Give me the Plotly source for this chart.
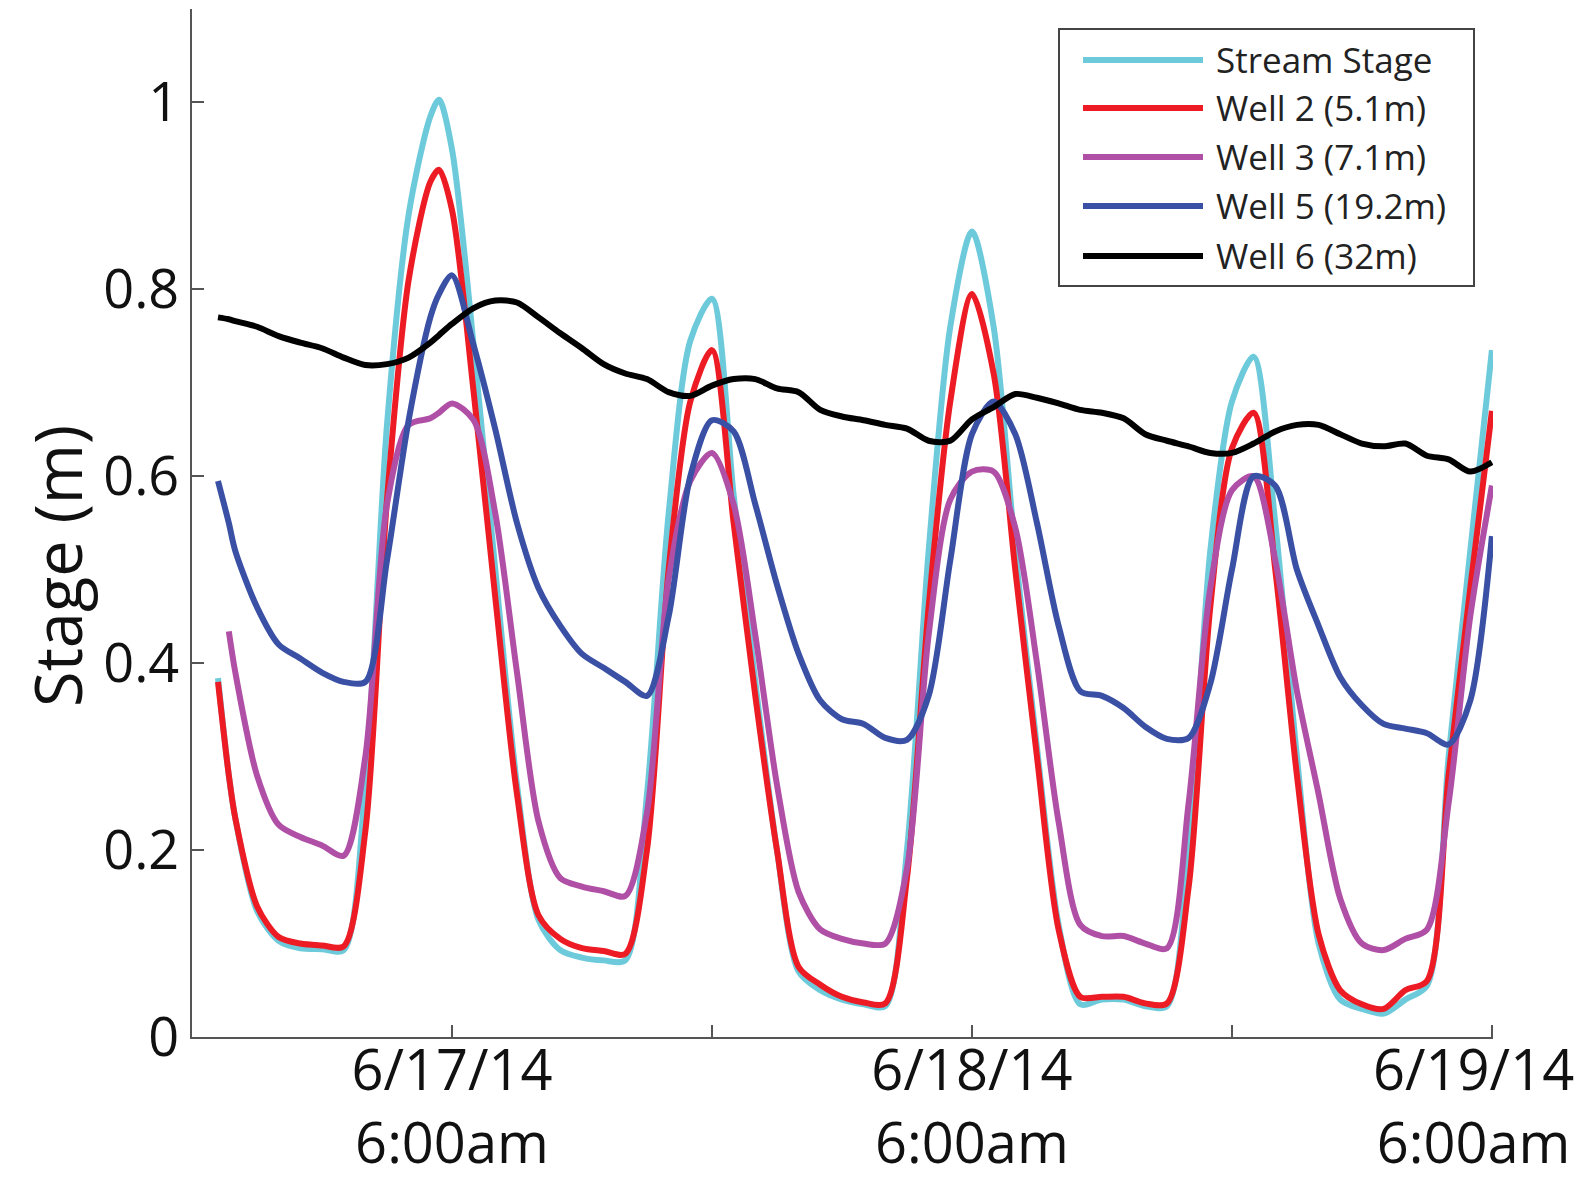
import pandas as pd
import plotly.graph_objects as go

# ---------------- data (hours after 2014-06-16 18:00) ----------------
hours = [1.2, 1.7, 2, 3, 4, 5, 6, 7, 8, 9, 10, 11, 11.4, 12, 13, 14, 15, 16, 17, 18, 19, 20,
         21, 22, 23, 24, 25, 26, 27, 28, 29, 30, 31, 32, 33, 34, 35, 36, 37, 38, 39, 40,
         41, 42, 43, 44, 45, 46, 47, 48, 49, 50, 51, 52, 53, 54, 55, 56, 57, 58, 59, 60]

stream_stage = [0.384, 0.28, 0.234, 0.135, 0.103, 0.095, 0.094, 0.093, 0.27, 0.655, 0.88,
                0.985, 1.003, 0.95, 0.74, 0.5, 0.27, 0.125, 0.093, 0.085, 0.082, 0.082,
                0.26, 0.56, 0.745, 0.79, 0.58, 0.38, 0.2, 0.07, 0.05, 0.04,
                0.035, 0.033, 0.2, 0.52, 0.76, 0.862, 0.76, 0.52, 0.31, 0.12,
                0.035, 0.04, 0.04, 0.033, 0.033, 0.2, 0.52, 0.68, 0.728, 0.55,
                0.3, 0.1, 0.04, 0.03, 0.025, 0.04, 0.055, 0.3, 0.52, 0.735]

well2 = [0.38, 0.28, 0.234, 0.14, 0.107, 0.1, 0.098, 0.097, 0.22, 0.575, 0.81,
         0.915, 0.928, 0.885, 0.69, 0.47, 0.26, 0.13, 0.105, 0.095, 0.092, 0.089,
         0.2, 0.5, 0.68, 0.735, 0.55, 0.365, 0.2, 0.075, 0.056, 0.043,
         0.037, 0.036, 0.17, 0.46, 0.68, 0.795, 0.71, 0.5, 0.3, 0.115,
         0.043, 0.043, 0.043, 0.036, 0.036, 0.16, 0.46, 0.63, 0.668, 0.5,
         0.28, 0.11, 0.05, 0.035, 0.03, 0.05, 0.06, 0.28, 0.48, 0.67]

well3 = [None, 0.434, 0.39, 0.28, 0.227, 0.214, 0.205, 0.194, 0.30, 0.57, 0.655,
         0.662, 0.668, 0.678, 0.66, 0.56, 0.39, 0.23, 0.17, 0.161, 0.156, 0.151,
         0.24, 0.49, 0.595, 0.625, 0.57, 0.43, 0.27, 0.155, 0.115, 0.105,
         0.1, 0.1, 0.18, 0.43, 0.575, 0.605, 0.605, 0.545, 0.4, 0.23,
         0.12, 0.108, 0.108, 0.1, 0.095, 0.25, 0.48, 0.585, 0.6, 0.51,
         0.37, 0.26, 0.148, 0.1, 0.093, 0.105, 0.115, 0.25, 0.45, 0.59]

well5 = [0.595, 0.55, 0.52, 0.46, 0.42, 0.405, 0.39, 0.38, 0.38, 0.51, 0.66,
         0.77, 0.795, 0.815, 0.74, 0.65, 0.55, 0.48, 0.44, 0.41, 0.395, 0.38,
         0.365, 0.45, 0.6, 0.66, 0.648, 0.57, 0.484, 0.41, 0.36, 0.34,
         0.335, 0.32, 0.318, 0.365, 0.51, 0.645, 0.68, 0.645, 0.55, 0.44,
         0.37, 0.365, 0.352, 0.332, 0.319, 0.32, 0.378, 0.5, 0.6, 0.59,
         0.5, 0.44, 0.385, 0.355, 0.335, 0.33, 0.325, 0.313, 0.36, 0.536]

well6 = [0.77, 0.768, 0.766, 0.76, 0.75, 0.743, 0.737, 0.727, 0.719, 0.72, 0.727,
         0.743, 0.751, 0.763, 0.78, 0.788, 0.786, 0.77, 0.753, 0.737, 0.72, 0.71,
         0.704, 0.69, 0.686, 0.697, 0.704, 0.704, 0.694, 0.69, 0.671, 0.664,
         0.66, 0.655, 0.651, 0.638, 0.638, 0.661, 0.674, 0.688, 0.684, 0.678,
         0.671, 0.668, 0.662, 0.645, 0.638, 0.632, 0.625, 0.625, 0.635, 0.648,
         0.655, 0.655, 0.645, 0.635, 0.632, 0.635, 0.622, 0.618, 0.605, 0.615]

series_names = ["Stream Stage", "Well 2 (5.1m)", "Well 3 (7.1m)", "Well 5 (19.2m)", "Well 6 (32m)"]
series_values = [stream_stage, well2, well3, well5, well6]
series_colors = ["#6dcadb", "#ed1c24", "#b04fa6", "#3a50a5", "#000000"]

start_time = "2014-06-16 18:00"
end_time = "2014-06-19 06:03"
tick_times = ["2014-06-17 06:00", "2014-06-17 18:00", "2014-06-18 06:00",
              "2014-06-18 18:00", "2014-06-19 06:00"]
tick_labels = ["6/17/14<br>6:00am", "", "6/18/14<br>6:00am", "", ""]
last_tick_label = "6/19/14<br>6:00am"
y_ticks = [0, 0.2, 0.4, 0.6, 0.8, 1.0]
y_tick_labels = ["0", "0.2", "0.4", "0.6", "0.8", "1"]

times = pd.Timestamp(start_time) + pd.to_timedelta(hours, unit="h")

# ---------------- layout geometry (screen pixels) ----------------
OFF = 8                      # page body margin of the html page
W, H = 1591 - OFF, 1181 - OFF
L, R, T, B = 192, 1493, 9, 1037   # plot area on screen
FONT = "Open Sans"
TICK_SIZE_X = 56


def px(x):
    return (x - L) / (R - L)


def py(y):
    return (B - y) / (B - T)


fig = go.Figure()
for name, vals, col in zip(series_names, series_values, series_colors):
    fig.add_trace(go.Scatter(
        x=times, y=vals, name=name, mode="lines",
        line=dict(color=col, width=6, shape="spline", smoothing=0.8),
        connectgaps=False, showlegend=False))

shapes = []
# tan border look of the original page (right edge)
shapes.append(dict(type="rect", xref="paper", yref="paper", layer="below",
                   x0=px(0), x1=px(1585), y0=py(1200), y1=py(-20),
                   fillcolor="white", line=dict(width=0)))
# legend box
shapes.append(dict(type="rect", xref="paper", yref="paper",
                   x0=px(1059), x1=px(1474), y0=py(286), y1=py(29),
                   fillcolor="white", line=dict(color="#444444", width=2)))
annotations = []
leg_y = [60, 108, 157, 206, 256]
for name, col, yy in zip(series_names, series_colors, leg_y):
    shapes.append(dict(type="line", xref="paper", yref="paper",
                       x0=px(1083), x1=px(1203), y0=py(yy), y1=py(yy),
                       line=dict(color=col, width=6)))
    annotations.append(dict(xref="paper", yref="paper", x=px(1214), y=py(yy - 1),
                            xanchor="left", yanchor="middle", showarrow=False,
                            text=name, font=dict(family=FONT, size=35, color="#222222")))

# y-axis title
annotations.append(dict(xref="paper", yref="paper", x=px(57), y=py(566),
                        xanchor="center", yanchor="middle", showarrow=False,
                        textangle=-90, text="Stage (m)",
                        font=dict(family=FONT, size=65, color="#111111")))

# last x tick label (sits at the right edge of the figure, nudged left)
annotations.append(dict(xref="x", yref="paper", x=tick_times[-1], y=0,
                        xanchor="center", yanchor="top", xshift=-18, yshift=9,
                        showarrow=False, text=last_tick_label,
                        font=dict(family=FONT, size=TICK_SIZE_X, color="#111111")))

fig.update_layout(
    width=W, height=H,
    margin=dict(l=L - OFF, r=W - (R - OFF), t=T - OFF, b=H - (B - OFF), pad=0),
    paper_bgcolor="#e7d2a3",
    plot_bgcolor="white",
    font=dict(family=FONT, size=56, color="#111111"),
    shapes=shapes,
    annotations=annotations,
    showlegend=False,
)

fig.update_xaxes(
    type="date", range=[start_time, end_time], automargin=False,
    tickmode="array", tickvals=tick_times, ticktext=tick_labels,
    ticks="inside", ticklen=12, tickwidth=2, tickcolor="#555555",
    showline=True, linecolor="#555555", linewidth=2,
    showgrid=False, zeroline=False, ticklabelstandoff=-16,
    tickfont=dict(family=FONT, size=TICK_SIZE_X, color="#111111"),
)
fig.update_yaxes(
    range=[0, 1.1], automargin=False,
    tickmode="array", tickvals=y_ticks, ticktext=y_tick_labels,
    ticks="inside", ticklen=12, tickwidth=2, tickcolor="#555555",
    showline=True, linecolor="#555555", linewidth=2,
    showgrid=False, zeroline=False,
    tickfont=dict(family=FONT, size=54, color="#111111"),
)

fig.write_html("out.html")
